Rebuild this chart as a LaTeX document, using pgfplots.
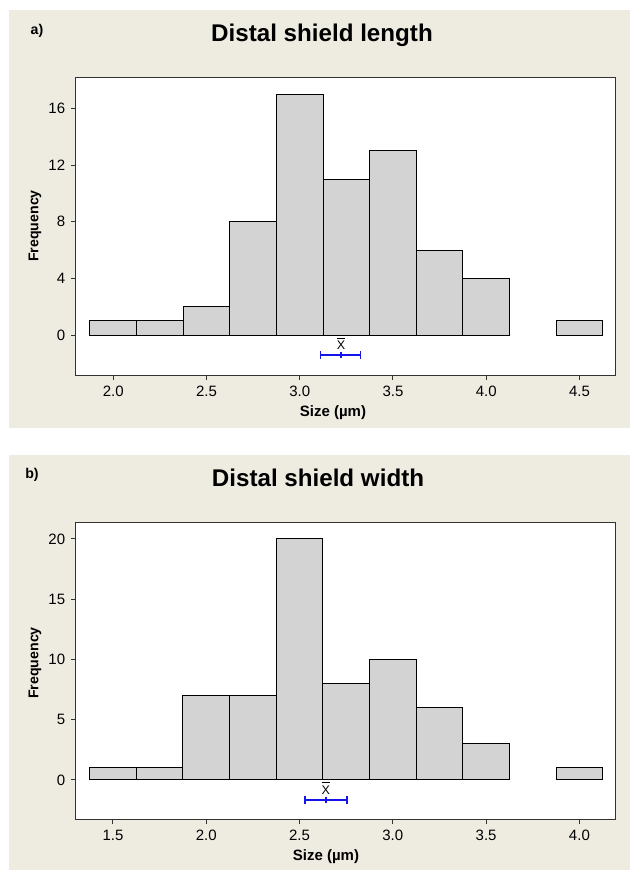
\documentclass[border=0pt]{standalone}
\usepackage{fontspec}
\setmainfont{Liberation Sans}
\usepackage{pgfplots}
\pgfplotsset{compat=1.18}
\definecolor{panel}{RGB}{238,235,225}
\definecolor{barfill}{RGB}{211,211,211}
\definecolor{ci}{RGB}{20,20,235}
\pgfplotsset{
  hist/.style={
    scale only axis, width=324pt, anchor=south west,
    axis background/.style={fill=white},
    axis line style={line width=0.6pt, black!80},
    tick align=outside, tick pos=left, major tick length=3pt,
    tick style={line width=0.6pt, black!80},
    ticklabel style={font=\fontsize{9}{10}\selectfont},
    xticklabel style={/pgf/number format/.cd, fixed, fixed zerofill, precision=1},
    /pgf/number format/assume math mode=true,
    clip=false,
  },
  bars/.style={ybar interval, fill=barfill, draw=black, line width=0.6pt},
}
\begin{document}
\begin{tikzpicture}[x=0.6pt, y=-0.6pt]
\fill[white] (0,0) rectangle (630,870);
\fill[panel] (9,10) rectangle (630,428);
\fill[panel] (9,455) rectangle (630,870);

% panel a
\node[font=\bfseries\fontsize{8.5}{10}\selectfont] at (37,31) {a)};
\node[font=\bfseries\fontsize{14.5}{16}\selectfont] at (322,35) {Distal shield length};
\node[font=\bfseries\fontsize{8.5}{10}\selectfont, rotate=90] at (35,226) {Frequency};
\node[font=\bfseries\fontsize{9}{10}\selectfont] at (333,413) {Size (µm)};
\begin{axis}[hist, at={(45.6pt,-225pt)}, height=178.8pt,
  xmin=1.80, xmax=4.696, ymin=-2.82, ymax=18.21,
  xtick={2.0,2.5,3.0,3.5,4.0,4.5}, ytick={0,4,8,12,16}]
\addplot[bars] coordinates {(1.875,1)(2.125,1)(2.375,2)(2.625,8)(2.875,17)
  (3.125,11)(3.375,13)(3.625,6)(3.875,4)(4.125,4)};
\addplot[bars] coordinates {(4.375,1)(4.625,1)};
\addplot[ci, line width=0.8pt, mark=|, mark size=2.4pt] coordinates {(3.111,-1.41)(3.327,-1.41)};
\addplot[ci, line width=0.8pt, only marks, mark=|, mark size=1.8pt] coordinates {(3.222,-1.41)};
\node[font=\fontsize{7.5}{8}\selectfont, inner sep=0.5pt] (xa) at (axis cs:3.222,-0.75) {X};
\draw[line width=0.4pt] ([xshift=0.8pt,yshift=1.3pt]xa.north west) -- ([xshift=-0.8pt,yshift=1.3pt]xa.north east);
\end{axis}

% panel b
\node[font=\bfseries\fontsize{8.5}{10}\selectfont] at (32,475) {b)};
\node[font=\bfseries\fontsize{14.5}{16}\selectfont] at (318,478) {Distal shield width};
\node[font=\bfseries\fontsize{8.5}{10}\selectfont, rotate=90] at (35,663) {Frequency};
\node[font=\bfseries\fontsize{9}{10}\selectfont] at (326,857) {Size (µm)};
\begin{axis}[hist, at={(45.6pt,-491.4pt)}, height=178.2pt,
  xmin=1.302, xmax=4.196, ymin=-3.24, ymax=21.4,
  xtick={1.5,2.0,2.5,3.0,3.5,4.0}, ytick={0,5,10,15,20}]
\addplot[bars] coordinates {(1.375,1)(1.625,1)(1.875,7)(2.125,7)(2.375,20)
  (2.625,8)(2.875,10)(3.125,6)(3.375,3)(3.625,3)};
\addplot[bars] coordinates {(3.875,1)(4.125,1)};
\addplot[ci, line width=0.8pt, mark=|, mark size=2.4pt] coordinates {(2.529,-1.66)(2.754,-1.66)};
\addplot[ci, line width=0.8pt, only marks, mark=|, mark size=1.8pt] coordinates {(2.641,-1.66)};
\node[font=\fontsize{7.5}{8}\selectfont, inner sep=0.5pt] (xb) at (axis cs:2.641,-0.85) {X};
\draw[line width=0.4pt] ([xshift=0.8pt,yshift=1.3pt]xb.north west) -- ([xshift=-0.8pt,yshift=1.3pt]xb.north east);
\end{axis}
\end{tikzpicture}
\end{document}
